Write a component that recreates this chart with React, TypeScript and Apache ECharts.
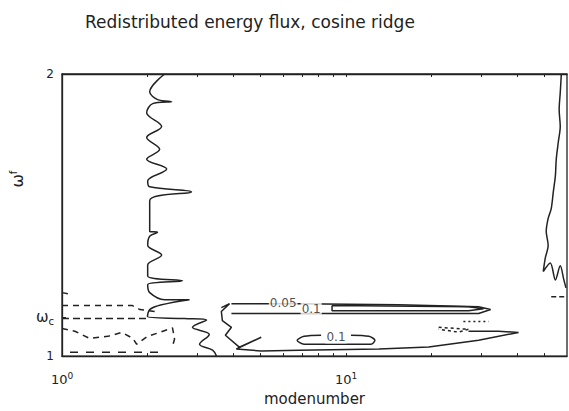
import React, { useEffect, useRef } from "react";
import * as echarts from "echarts";

// ---------- data (modenumber, omega) ----------
const titleText = "Redistributed energy flux, cosine ridge";
const xName = "modenumber";
const xTickValues = [1, 10];
const xTickExps = ["0", "1"];
const xMinorTicks = [1, 2, 3, 4, 5, 6, 7, 8, 9, 10, 20, 30, 40, 50];
const yTickValues = [1, 1.137, 2];
const yTickLabels = ["1", "ωc", "2"];

// solid contours
const leftRidge: number[][] = [
  [2.298, 2.0], [2.036, 1.937], [2.172, 1.909], [2.432, 1.902], [2.086, 1.895],
  [1.987, 1.863], [2.243, 1.814], [1.987, 1.775], [2.207, 1.733], [1.987, 1.698],
  [2.336, 1.663], [2.003, 1.621], [2.036, 1.6], [2.858, 1.582], [2.036, 1.551],
  [2.036, 1.442], [2.17, 1.439], [2.036, 1.425], [2.003, 1.393], [2.243, 1.358],
  [2.003, 1.323], [2.003, 1.284], [2.659, 1.267], [2.003, 1.253], [2.036, 1.225],
  [2.298, 1.2], [2.812, 1.2], [2.243, 1.182], [2.036, 1.165], [2.0, 1.14],
  [2.7, 1.133], [3.23, 1.128], [2.88, 1.102], [3.3, 1.077], [3.05, 1.042],
  [3.39, 1.021], [3.5, 1.0],
];
const lowerTongue: number[][] = [
  [3.64, 1.172], [3.89, 1.186], [3.64, 1.158], [3.67, 1.126], [3.95, 1.102],
  [3.76, 1.074], [4.21, 1.032], [5.03, 1.067], [4.11, 1.025], [5.03, 1.018],
  [6.84, 1.021], [13.06, 1.025], [19.55, 1.032], [29.3, 1.056], [40.5, 1.084],
  [34.4, 1.088], [27.0, 1.088],
];
const tongue005: number[][] = [
  [3.95, 1.151], [6.84, 1.151], [15.35, 1.151], [29.3, 1.151], [32.3, 1.165],
  [29.3, 1.175], [15.35, 1.182], [6.84, 1.186], [3.95, 1.186],
];
const tongue01: number[][] = [
  [8.93, 1.179], [27.0, 1.175], [30.5, 1.168], [27.0, 1.161], [8.93, 1.161], [8.93, 1.179],
];
const closed01: number[][] = [
  [8.17, 1.074], [7.12, 1.07], [6.73, 1.056], [7.12, 1.042], [12.24, 1.042],
  [12.64, 1.056], [12.04, 1.07], [10.41, 1.074],
];
const rightRidge: number[][] = [
  [57.3, 2.0], [56.8, 1.933], [56.3, 1.874], [56.8, 1.814], [55.9, 1.758],
  [55.0, 1.698], [54.6, 1.639], [53.7, 1.582], [52.8, 1.523], [51.5, 1.488],
  [50.7, 1.442], [51.5, 1.393], [50.3, 1.347], [49.5, 1.3], [52.4, 1.33],
  [54.6, 1.27], [56.8, 1.32], [58.5, 1.27], [59.5, 1.242],
];
const rightStub: number[][] = [[52.8, 1.21], [59.5, 1.21]];

// dashed (negative) contours
const dashedOmegaC: number[][] = [[1.0, 1.133], [1.987, 1.133]];
const dashedUpper: number[][] = [[1.0, 1.179], [1.77, 1.179], [1.88, 1.165], [2.12, 1.158]];
const dashedTop: number[][] = [[1.0, 1.225], [1.084, 1.218]];
const dashedMiddle: number[][] = [
  [1.0, 1.098], [1.11, 1.088], [1.25, 1.063], [1.45, 1.07], [1.624, 1.084],
  [1.775, 1.063], [1.832, 1.042], [2.0, 1.07], [2.207, 1.084], [2.45, 1.1],
  [2.49, 1.06], [2.45, 1.035],
];
const dashedBottom: number[][] = [[1.067, 1.014], [2.3, 1.014]];
const dashedRight: number[][] = [[21.2, 1.102], [27.0, 1.095], [24.9, 1.085], [21.2, 1.095]];
const dottedRight: number[][] = [[25.9, 1.123], [31.8, 1.123]];

const contourLabels: (number | string)[][] = [
  [6.01, 1.19, "0.05"],
  [7.54, 1.168, "0.1"],
  [9.22, 1.066, "0.1"],
];

const INK = "#222";

export default function App() {
  const ref = useRef<HTMLDivElement>(null);
  useEffect(() => {
    if (!ref.current) return;
    const chart = echarts.init(ref.current, undefined, { renderer: "svg" });
    const solid = (name: string, data: number[][], smooth = 0) => ({
      type: "line", name, data, showSymbol: false, symbol: "none", smooth,
      lineStyle: { color: INK, width: 1.5 }, silent: true, z: 3,
    });
    const dashed = (name: string, data: number[][], dash: number[] = [6, 5]) => ({
      type: "line", name, data, showSymbol: false, symbol: "none",
      lineStyle: { color: INK, width: 1.5, type: dash }, silent: true, z: 3,
    });
    chart.setOption({
      animation: false,
      backgroundColor: "#fff",
      title: {
        text: titleText,
        left: 80,
        top: 8,
        textStyle: { fontFamily: "DejaVu Sans", fontSize: 17, fontWeight: "normal", color: INK },
      },
      grid: { left: 62, right: 2, top: 74, bottom: 52, show: true, borderColor: INK, borderWidth: 1.3 },
      xAxis: [
        {
          type: "log", logBase: 10, min: 1, max: 60,
          name: xName, nameLocation: "middle", nameGap: 31,
          nameTextStyle: { fontFamily: "DejaVu Sans", fontSize: 15, color: INK },
          axisLine: { lineStyle: { color: INK, width: 1.3 } },
          axisTick: { inside: true, length: 3, customValues: xMinorTicks, lineStyle: { color: INK } },
          axisLabel: {
            customValues: xTickValues,
            margin: 15,
            formatter: (v: number) => {
              const i = xTickValues.indexOf(v);
              return i >= 0 ? `{b|10}{s|${xTickExps[i]}}` : "";
            },
            rich: {
              b: { fontFamily: "DejaVu Sans", fontSize: 13, color: INK },
              s: { fontFamily: "DejaVu Sans", fontSize: 9, color: INK, verticalAlign: "top", padding: [0, 0, 8, 0] },
            },
          },
          splitLine: { show: false },
        },
        {
          type: "log", logBase: 10, min: 1, max: 60, position: "top",
          axisLine: { lineStyle: { color: INK, width: 1.3 } },
          axisTick: { inside: true, length: 3, customValues: xMinorTicks, lineStyle: { color: INK } },
          axisLabel: { show: false },
          splitLine: { show: false },
        },
      ],
      yAxis: {
        type: "value", min: 1, max: 2,
        name: "{w|ω}{f|f}",
        nameLocation: "middle", nameGap: 33, nameRotate: 90,
        nameTextStyle: {
          padding: [0, 0, 0, 72],
          rich: {
            w: { fontFamily: "DejaVu Sans", fontSize: 16, color: INK },
            f: { fontFamily: "DejaVu Sans", fontSize: 10, color: INK, verticalAlign: "top", padding: [0, 0, 8, 0] },
          },
        },
        axisLine: { lineStyle: { color: INK, width: 1.3 } },
        axisTick: { inside: true, length: 4, customValues: yTickValues, lineStyle: { color: INK } },
        axisLabel: {
          customValues: yTickValues,
          margin: 8,
          formatter: (v: number) => {
            const i = yTickValues.indexOf(v);
            if (i < 0) return "";
            const t = yTickLabels[i];
            return t.length > 1 ? `{w|${t[0]}}{c|${t[1]}}` : `{n|${t}}`;
          },
          rich: {
            n: { fontFamily: "DejaVu Sans", fontSize: 12, color: INK },
            w: { fontFamily: "DejaVu Sans", fontSize: 15, color: INK },
            c: { fontFamily: "DejaVu Sans", fontSize: 10, color: INK, verticalAlign: "bottom", padding: [8, 0, 0, 0] },
          },
        },
        splitLine: { show: false },
      },
      series: [
        solid("leftRidge", leftRidge, 0.35),
        solid("lowerTongue", lowerTongue),
        solid("tongue005", tongue005),
        solid("tongue01", tongue01),
        solid("closed01", closed01, 0.3),
        solid("rightRidge", rightRidge, 0.3),
        dashed("rightStub", rightStub, [5, 3]),
        dashed("dashedOmegaC", dashedOmegaC, [7, 4]),
        dashed("dashedUpper", dashedUpper),
        dashed("dashedTop", dashedTop),
        dashed("dashedMiddle", dashedMiddle),
        dashed("dashedBottom", dashedBottom, [8, 8]),
        dashed("dashedRight", dashedRight, [3, 3]),
        dashed("dottedRight", dottedRight, [2, 3]),
        {
          type: "scatter", name: "labels", data: contourLabels, symbolSize: 0, z: 5, silent: true,
          label: {
            show: true, position: "inside",
            formatter: (p: any) => p.value[2],
            fontFamily: "DejaVu Sans", fontSize: 12, color: INK,
            backgroundColor: "#fff", padding: [0, 1],
          },
        },
      ],
    });
    return () => chart.dispose();
  }, []);
  return <div ref={ref} style={{ width: 569, height: 411, position: "absolute", left: 0, top: 0 }} />;
}
